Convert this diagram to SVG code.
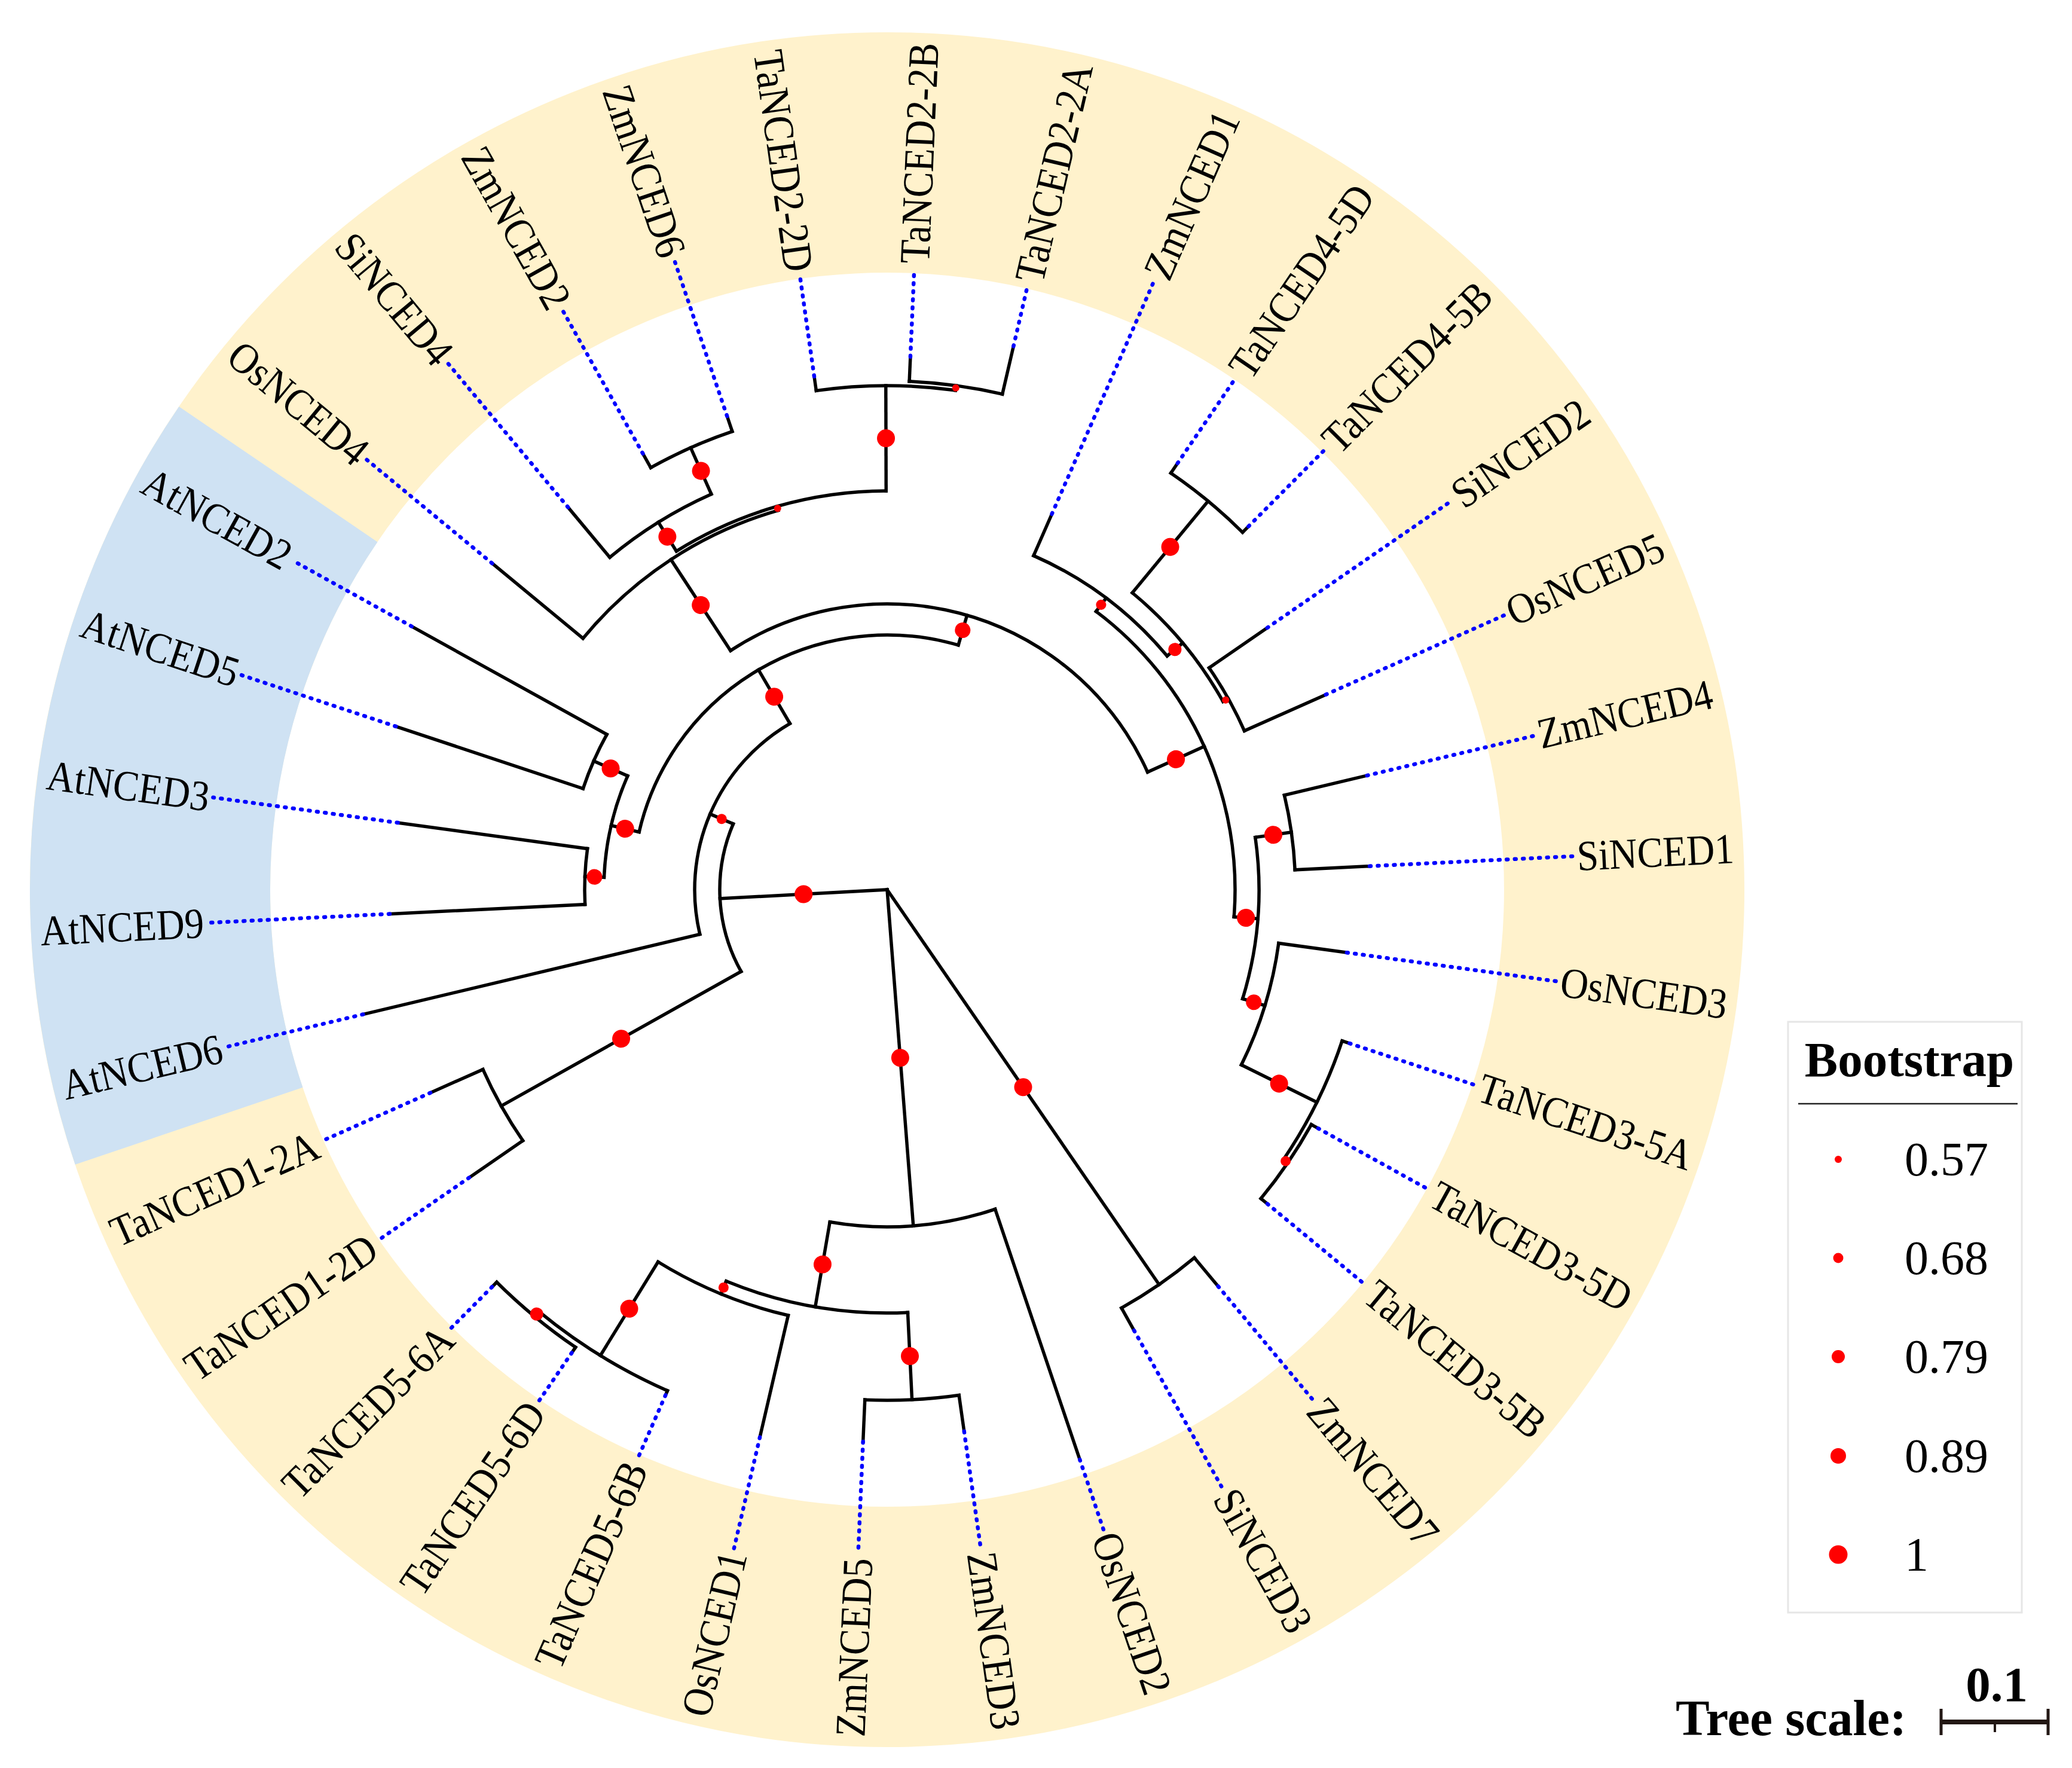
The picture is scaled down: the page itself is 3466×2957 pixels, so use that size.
<svg xmlns="http://www.w3.org/2000/svg" width="3466" height="2957" viewBox="0 0 3466 2957">
<style>
.br{fill:none;stroke:#000;stroke-width:5.5;stroke-linecap:square}
.dt{fill:none;stroke:#0000ff;stroke-width:6.5;stroke-dasharray:2 11.5;stroke-linecap:round}
.bs{fill:#ff0000}
.lb{font-family:"Liberation Serif","Times New Roman",serif;font-size:72px;fill:#000;dominant-baseline:central}
.lg{font-family:"Liberation Serif","Times New Roman",serif;fill:#000}
</style>
<rect width="3466" height="2957" fill="#ffffff"/>
<g transform="translate(1484 1488)">
<g id="bands">
<circle r="1233" fill="none" stroke="#FFF2CC" stroke-width="402"/>
<circle r="1233" fill="none" stroke="#CFE2F3" stroke-width="402" pathLength="360" stroke-dasharray="53 360" transform="rotate(161.3)"/>
</g>
<g id="connectors">
<g class="br">
<line y1="0" y2="-280" transform="rotate(266.94)"/>
<line y1="0" y2="-564" transform="rotate(175.55)"/>
<line y1="0" y2="-802" transform="rotate(145.44)"/>
<line y1="-280" y2="-322" transform="rotate(293.14)"/>
<line y1="-280" y2="-740" transform="rotate(240.74)"/>
<line y1="-322" y2="-901" transform="rotate(256.62)"/>
<line y1="-322" y2="-426" transform="rotate(329.66)"/>
<line y1="-426" y2="-474" transform="rotate(283.09)"/>
<line y1="-426" y2="-478" transform="rotate(16.23)"/>
<line y1="-474" y2="-536" transform="rotate(293.68)"/>
<line y1="-474" y2="-506" transform="rotate(272.5)"/>
<line y1="-536" y2="-909" transform="rotate(298.97)"/>
<line y1="-536" y2="-866" transform="rotate(288.38)"/>
<line y1="-506" y2="-826" transform="rotate(277.79)"/>
<line y1="-506" y2="-833" transform="rotate(267.21)"/>
<line y1="-478" y2="-660" transform="rotate(326.77)"/>
<line y1="-478" y2="-582" transform="rotate(65.70)"/>
<line y1="-660" y2="-857" transform="rotate(309.56)"/>
<line y1="-660" y2="-667" transform="rotate(343.97)"/>
<line y1="-667" y2="-724" transform="rotate(328.09)"/>
<line y1="-667" y2="-843" transform="rotate(359.85)"/>
<line y1="-724" y2="-833" transform="rotate(320.15)"/>
<line y1="-724" y2="-809" transform="rotate(336.03)"/>
<line y1="-809" y2="-836" transform="rotate(330.74)"/>
<line y1="-809" y2="-836" transform="rotate(341.32)"/>
<line y1="-843" y2="-867" transform="rotate(351.91)"/>
<line y1="-843" y2="-851" transform="rotate(7.79)"/>
<line y1="-851" y2="-892" transform="rotate(2.5)"/>
<line y1="-851" y2="-933" transform="rotate(13.09)"/>
<line y1="-582" y2="-610" transform="rotate(36.91)"/>
<line y1="-582" y2="-622" transform="rotate(94.48)"/>
<line y1="-610" y2="-686" transform="rotate(23.68)"/>
<line y1="-610" y2="-644" transform="rotate(50.15)"/>
<line y1="-644" y2="-843" transform="rotate(39.56)"/>
<line y1="-644" y2="-654" transform="rotate(60.74)"/>
<line y1="-843" y2="-863" transform="rotate(34.26)"/>
<line y1="-843" y2="-857" transform="rotate(44.85)"/>
<line y1="-654" y2="-772" transform="rotate(55.44)"/>
<line y1="-654" y2="-803" transform="rotate(66.03)"/>
<line y1="-622" y2="-683" transform="rotate(81.91)"/>
<line y1="-622" y2="-661" transform="rotate(107.06)"/>
<line y1="-683" y2="-825" transform="rotate(76.62)"/>
<line y1="-683" y2="-808" transform="rotate(87.21)"/>
<line y1="-661" y2="-776" transform="rotate(97.79)"/>
<line y1="-661" y2="-802" transform="rotate(116.32)"/>
<line y1="-802" y2="-815" transform="rotate(108.38)"/>
<line y1="-802" y2="-811" transform="rotate(124.26)"/>
<line y1="-811" y2="-824" transform="rotate(118.97)"/>
<line y1="-811" y2="-825" transform="rotate(129.56)"/>
<line y1="-740" y2="-849" transform="rotate(235.44)"/>
<line y1="-740" y2="-836" transform="rotate(246.03)"/>
<line y1="-564" y2="-1006" transform="rotate(161.32)"/>
<line y1="-564" y2="-708" transform="rotate(189.78)"/>
<line y1="-708" y2="-854" transform="rotate(177.21)"/>
<line y1="-708" y2="-731" transform="rotate(202.35)"/>
<line y1="-854" y2="-915" transform="rotate(171.91)"/>
<line y1="-854" y2="-924" transform="rotate(182.5)"/>
<line y1="-731" y2="-940" transform="rotate(193.09)"/>
<line y1="-731" y2="-915" transform="rotate(211.62)"/>
<line y1="-915" y2="-923" transform="rotate(203.68)"/>
<line y1="-915" y2="-926" transform="rotate(219.56)"/>
<line y1="-926" y2="-937" transform="rotate(214.26)"/>
<line y1="-926" y2="-937" transform="rotate(224.85)"/>
<line y1="-802" y2="-864" transform="rotate(140.15)"/>
<line y1="-802" y2="-845" transform="rotate(150.74)"/>
<circle r="280" pathLength="360" stroke-dasharray="52.40 360" transform="rotate(150.74)"/>
<circle r="322" pathLength="360" stroke-dasharray="73.04 360" transform="rotate(166.62)"/>
<circle r="426" pathLength="360" stroke-dasharray="93.14 360" transform="rotate(193.09)"/>
<circle r="474" pathLength="360" stroke-dasharray="21.18 360" transform="rotate(182.5)"/>
<circle r="536" pathLength="360" stroke-dasharray="10.59 360" transform="rotate(198.38)"/>
<circle r="506" pathLength="360" stroke-dasharray="10.58 360" transform="rotate(177.21)"/>
<circle r="478" pathLength="360" stroke-dasharray="98.93 360" transform="rotate(236.77)"/>
<circle r="660" pathLength="360" stroke-dasharray="34.41 360" transform="rotate(219.56)"/>
<circle r="667" pathLength="360" stroke-dasharray="31.76 360" transform="rotate(238.09)"/>
<circle r="724" pathLength="360" stroke-dasharray="15.88 360" transform="rotate(230.15)"/>
<circle r="809" pathLength="360" stroke-dasharray="10.58 360" transform="rotate(240.74)"/>
<circle r="843" pathLength="360" stroke-dasharray="15.88 360" transform="rotate(261.91)"/>
<circle r="851" pathLength="360" stroke-dasharray="10.59 360" transform="rotate(272.5)"/>
<circle r="582" pathLength="360" stroke-dasharray="57.57 360" transform="rotate(306.91)"/>
<circle r="610" pathLength="360" stroke-dasharray="26.47 360" transform="rotate(293.68)"/>
<circle r="644" pathLength="360" stroke-dasharray="21.18 360" transform="rotate(309.56)"/>
<circle r="843" pathLength="360" stroke-dasharray="10.59 360" transform="rotate(304.26)"/>
<circle r="654" pathLength="360" stroke-dasharray="10.59 360" transform="rotate(325.44)"/>
<circle r="622" pathLength="360" stroke-dasharray="25.15 360" transform="rotate(351.91)"/>
<circle r="683" pathLength="360" stroke-dasharray="10.59 360" transform="rotate(346.62)"/>
<circle r="661" pathLength="360" stroke-dasharray="18.53 360" transform="rotate(7.79)"/>
<circle r="802" pathLength="360" stroke-dasharray="15.88 360" transform="rotate(18.38)"/>
<circle r="811" pathLength="360" stroke-dasharray="10.59 360" transform="rotate(28.97)"/>
<circle r="740" pathLength="360" stroke-dasharray="10.59 360" transform="rotate(145.44)"/>
<circle r="564" pathLength="360" stroke-dasharray="28.46 360" transform="rotate(71.32)"/>
<circle r="708" pathLength="360" stroke-dasharray="25.14 360" transform="rotate(87.21)"/>
<circle r="854" pathLength="360" stroke-dasharray="10.59 360" transform="rotate(81.91)"/>
<circle r="731" pathLength="360" stroke-dasharray="18.53 360" transform="rotate(103.09)"/>
<circle r="915" pathLength="360" stroke-dasharray="15.88 360" transform="rotate(113.68)"/>
<circle r="926" pathLength="360" stroke-dasharray="10.59 360" transform="rotate(124.26)"/>
<circle r="802" pathLength="360" stroke-dasharray="10.59 360" transform="rotate(50.15)"/>
</g>
<g class="dt">
<line y1="-892" y2="-1038" transform="rotate(2.5)"/>
<line y1="-933" y2="-1034" transform="rotate(13.09)"/>
<line y1="-686" y2="-1113" transform="rotate(23.68)"/>
<line y1="-863" y2="-1034" transform="rotate(34.26)"/>
<line y1="-857" y2="-1038" transform="rotate(44.85)"/>
<line y1="-772" y2="-1149" transform="rotate(55.44)"/>
<line y1="-803" y2="-1131" transform="rotate(66.03)"/>
<line y1="-825" y2="-1113" transform="rotate(76.62)"/>
<line y1="-808" y2="-1149" transform="rotate(87.21)"/>
<line y1="-776" y2="-1131" transform="rotate(97.79)"/>
<line y1="-815" y2="-1034" transform="rotate(108.38)"/>
<line y1="-824" y2="-1034" transform="rotate(118.97)"/>
<line y1="-825" y2="-1038" transform="rotate(129.56)"/>
<line y1="-864" y2="-1113" transform="rotate(140.15)"/>
<line y1="-845" y2="-1149" transform="rotate(150.74)"/>
<line y1="-1006" y2="-1131" transform="rotate(161.32)"/>
<line y1="-915" y2="-1113" transform="rotate(171.91)"/>
<line y1="-924" y2="-1113" transform="rotate(182.5)"/>
<line y1="-940" y2="-1131" transform="rotate(193.09)"/>
<line y1="-923" y2="-1038" transform="rotate(203.68)"/>
<line y1="-937" y2="-1034" transform="rotate(214.26)"/>
<line y1="-937" y2="-1034" transform="rotate(224.85)"/>
<line y1="-849" y2="-1034" transform="rotate(235.44)"/>
<line y1="-836" y2="-1034" transform="rotate(246.03)"/>
<line y1="-901" y2="-1138" transform="rotate(256.62)"/>
<line y1="-833" y2="-1138" transform="rotate(267.21)"/>
<line y1="-826" y2="-1138" transform="rotate(277.79)"/>
<line y1="-866" y2="-1138" transform="rotate(288.38)"/>
<line y1="-909" y2="-1138" transform="rotate(298.97)"/>
<line y1="-857" y2="-1131" transform="rotate(309.56)"/>
<line y1="-833" y2="-1149" transform="rotate(320.15)"/>
<line y1="-836" y2="-1113" transform="rotate(330.74)"/>
<line y1="-836" y2="-1113" transform="rotate(341.32)"/>
<line y1="-867" y2="-1034" transform="rotate(351.91)"/>
</g>
</g>
<g id="internal-nodes" class="bs">
<g id="node-A"><circle cy="-140" r="15" transform="rotate(266.94)"/></g>
<g id="node-A1"><circle cy="-301" r="8.5" transform="rotate(293.14)"/></g>
<g id="node-X"><circle cy="-374" r="15" transform="rotate(329.66)"/></g>
<g id="node-K"><circle cy="-450" r="15" transform="rotate(283.09)"/></g>
<g id="node-J"><circle cy="-505" r="15" transform="rotate(293.68)"/></g>
<g id="node-L"><circle cy="-490" r="13" transform="rotate(272.5)"/></g>
<g id="node-TN1"><circle cy="-510" r="15" transform="rotate(240.74)"/></g>
<g id="node-Y"><circle cy="-452" r="13" transform="rotate(16.23)"/></g>
<g id="node-N1"><circle cy="-569" r="15" transform="rotate(326.77)"/></g>
<g id="node-N2"><circle cy="-663.5" r="6" transform="rotate(343.97)"/></g>
<g id="node-N3"><circle cy="-695.5" r="15" transform="rotate(328.09)"/></g>
<g id="node-Zm"><circle cy="-766.5" r="15" transform="rotate(336.03)"/></g>
<g id="node-TN2"><circle cy="-755" r="15" transform="rotate(359.85)"/></g>
<g id="node-TN2b"><circle cy="-847" r="6" transform="rotate(7.79)"/></g>
<g id="node-R"><circle cy="-530" r="15" transform="rotate(65.70)"/></g>
<g id="node-Z1"><circle cy="-596" r="8.5" transform="rotate(36.91)"/></g>
<g id="node-Q"><circle cy="-627" r="11" transform="rotate(50.15)"/></g>
<g id="node-TN4"><circle cy="-743.5" r="15" transform="rotate(39.56)"/></g>
<g id="node-P"><circle cy="-649" r="6" transform="rotate(60.74)"/></g>
<g id="node-S"><circle cy="-602" r="15" transform="rotate(94.48)"/></g>
<g id="node-T"><circle cy="-652.5" r="15" transform="rotate(81.91)"/></g>
<g id="node-U"><circle cy="-641.5" r="13" transform="rotate(107.06)"/></g>
<g id="node-V"><circle cy="-731.5" r="15" transform="rotate(116.32)"/></g>
<g id="node-W2"><circle cy="-806.5" r="8.5" transform="rotate(124.26)"/></g>
<g id="node-B"><circle cy="-282" r="15" transform="rotate(175.55)"/></g>
<g id="node-C"><circle cy="-401" r="15" transform="rotate(145.44)"/></g>
<g id="node-D"><circle cy="-636" r="15" transform="rotate(189.78)"/></g>
<g id="node-E"><circle cy="-781" r="15" transform="rotate(177.21)"/></g>
<g id="node-F"><circle cy="-719.5" r="8.5" transform="rotate(202.35)"/></g>
<g id="node-G"><circle cy="-823" r="15" transform="rotate(211.62)"/></g>
<g id="node-H"><circle cy="-920.5" r="11" transform="rotate(219.56)"/></g>
</g>
<g id="leaves" class="lb">
<g id="leaf-TaNCED2-2B"><text text-anchor="end" transform="rotate(-87.5) translate(1418 0) scale(0.9 1)">TaNCED2-2B</text></g>
<g id="leaf-TaNCED2-2A"><text text-anchor="end" transform="rotate(-76.91) translate(1418 0) scale(0.9 1)">TaNCED2-2A</text></g>
<g id="leaf-ZmNCED1"><text text-anchor="end" transform="rotate(-66.32) translate(1418 0) scale(0.9 1)">ZmNCED1</text></g>
<g id="leaf-TaNCED4-5D"><text text-anchor="end" transform="rotate(-55.74) translate(1418 0) scale(0.9 1)">TaNCED4-5D</text></g>
<g id="leaf-TaNCED4-5B"><text text-anchor="end" transform="rotate(-45.15) translate(1418 0) scale(0.9 1)">TaNCED4-5B</text></g>
<g id="leaf-SiNCED2"><text text-anchor="end" transform="rotate(-34.56) translate(1418 0) scale(0.9 1)">SiNCED2</text></g>
<g id="leaf-OsNCED5"><text text-anchor="end" transform="rotate(-23.97) translate(1418 0) scale(0.9 1)">OsNCED5</text></g>
<g id="leaf-ZmNCED4"><text text-anchor="end" transform="rotate(-13.38) translate(1418 0) scale(0.9 1)">ZmNCED4</text></g>
<g id="leaf-SiNCED1"><text text-anchor="end" transform="rotate(-2.79) translate(1418 0) scale(0.9 1)">SiNCED1</text></g>
<g id="leaf-OsNCED3"><text text-anchor="end" transform="rotate(7.79) translate(1418 0) scale(0.9 1)">OsNCED3</text></g>
<g id="leaf-TaNCED3-5A"><text text-anchor="end" transform="rotate(18.38) translate(1418 0) scale(0.9 1)">TaNCED3-5A</text></g>
<g id="leaf-TaNCED3-5D"><text text-anchor="end" transform="rotate(28.97) translate(1418 0) scale(0.9 1)">TaNCED3-5D</text></g>
<g id="leaf-TaNCED3-5B"><text text-anchor="end" transform="rotate(39.56) translate(1418 0) scale(0.9 1)">TaNCED3-5B</text></g>
<g id="leaf-ZmNCED7"><text text-anchor="end" transform="rotate(50.15) translate(1418 0) scale(0.9 1)">ZmNCED7</text></g>
<g id="leaf-SiNCED3"><text text-anchor="end" transform="rotate(60.74) translate(1418 0) scale(0.9 1)">SiNCED3</text></g>
<g id="leaf-OsNCED2"><text text-anchor="end" transform="rotate(71.32) translate(1418 0) scale(0.9 1)">OsNCED2</text></g>
<g id="leaf-ZmNCED3"><text text-anchor="end" transform="rotate(81.91) translate(1418 0) scale(0.9 1)">ZmNCED3</text></g>
<g id="leaf-ZmNCED5"><text transform="rotate(272.5) translate(-1418 0) scale(0.9 1)">ZmNCED5</text></g>
<g id="leaf-OsNCED1"><text transform="rotate(283.09) translate(-1418 0) scale(0.9 1)">OsNCED1</text></g>
<g id="leaf-TaNCED5-6B"><text transform="rotate(293.68) translate(-1418 0) scale(0.9 1)">TaNCED5-6B</text></g>
<g id="leaf-TaNCED5-6D"><text transform="rotate(304.26) translate(-1418 0) scale(0.9 1)">TaNCED5-6D</text></g>
<g id="leaf-TaNCED5-6A"><text transform="rotate(314.85) translate(-1418 0) scale(0.9 1)">TaNCED5-6A</text></g>
<g id="leaf-TaNCED1-2D"><text transform="rotate(325.44) translate(-1418 0) scale(0.9 1)">TaNCED1-2D</text></g>
<g id="leaf-TaNCED1-2A"><text transform="rotate(336.03) translate(-1418 0) scale(0.9 1)">TaNCED1-2A</text></g>
<g id="leaf-AtNCED6"><text transform="rotate(346.62) translate(-1418 0) scale(0.9 1)">AtNCED6</text></g>
<g id="leaf-AtNCED9"><text transform="rotate(357.21) translate(-1418 0) scale(0.9 1)">AtNCED9</text></g>
<g id="leaf-AtNCED3"><text transform="rotate(7.79) translate(-1418 0) scale(0.9 1)">AtNCED3</text></g>
<g id="leaf-AtNCED5"><text transform="rotate(18.38) translate(-1418 0) scale(0.9 1)">AtNCED5</text></g>
<g id="leaf-AtNCED2"><text transform="rotate(28.97) translate(-1418 0) scale(0.9 1)">AtNCED2</text></g>
<g id="leaf-OsNCED4"><text transform="rotate(39.56) translate(-1418 0) scale(0.9 1)">OsNCED4</text></g>
<g id="leaf-SiNCED4"><text transform="rotate(50.15) translate(-1418 0) scale(0.9 1)">SiNCED4</text></g>
<g id="leaf-ZmNCED2"><text transform="rotate(60.74) translate(-1418 0) scale(0.9 1)">ZmNCED2</text></g>
<g id="leaf-ZmNCED6"><text transform="rotate(71.32) translate(-1418 0) scale(0.9 1)">ZmNCED6</text></g>
<g id="leaf-TaNCED2-2D"><text transform="rotate(81.91) translate(-1418 0) scale(0.9 1)">TaNCED2-2D</text></g>
</g>
</g>
<g id="legend">
<rect x="2991" y="1709" width="391" height="988" fill="#ffffff" stroke="#e6e6e6" stroke-width="3"/>
<text class="lg" x="3194" y="1800" font-size="83" font-weight="bold" text-anchor="middle">Bootstrap</text>
<line x1="3008" y1="1846" x2="3375" y2="1846" stroke="#222" stroke-width="2.5"/>
<g class="bs">
<circle cx="3075" cy="1939" r="6"/>
<circle cx="3075" cy="2104" r="8.5"/>
<circle cx="3075" cy="2269" r="11"/>
<circle cx="3075" cy="2435" r="13"/>
<circle cx="3075" cy="2600" r="15.5"/>
</g>
<g class="lg" font-size="80">
<text x="3186" y="1966">0.57</text>
<text x="3186" y="2131">0.68</text>
<text x="3186" y="2296">0.79</text>
<text x="3186" y="2462">0.89</text>
<text x="3186" y="2627">1</text>
</g>
</g>
<g id="tree-scale">
<text class="lg" x="2803" y="2902" font-size="85" font-weight="bold" fill="#231815">Tree scale:</text>
<text class="lg" x="3340" y="2845" font-size="83" font-weight="bold" text-anchor="middle" fill="#231815">0.1</text>
<g stroke="#231815">
<line x1="3247" y1="2880" x2="3426" y2="2880" stroke-width="8"/>
<line x1="3247" y1="2858" x2="3247" y2="2902" stroke-width="5"/>
<line x1="3426" y1="2858" x2="3426" y2="2902" stroke-width="5"/>
<line x1="3337" y1="2880" x2="3337" y2="2897" stroke-width="4"/>
</g>
</g>
</svg>
